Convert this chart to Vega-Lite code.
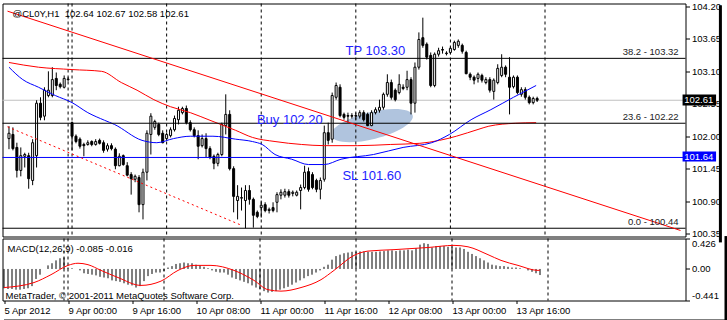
{
  "$schema": "https://vega.github.io/schema/vega-lite/v6.json",
  "background": "white",
  "padding": {"left": 1.5, "top": 0.5, "right": 0, "bottom": 0},
  "spacing": 2,
  "bounds": "flush",
  "config": {
    "view": {"stroke": "black", "strokeWidth": 1, "fill": "white"},
    "font": "Liberation Sans",
    "axis": {"labelOverlap": false, "labelFlush": false, "labelBound": false, "grid": false, "domain": false, "tickColor": "black", "labelColor": "black", "labelFont": "Liberation Sans", "labelFontSize": 9.5}
  },
  "datasets": {
    "bars": [
      {"i":-16,"o":101.96,"h":102.17,"l":101.78,"c":102.05,"m":-0.27},
      {"i":-15,"o":102.03,"h":102.15,"l":101.76,"c":101.79,"m":-0.28},
      {"i":-14,"o":101.81,"h":101.89,"l":101.30,"c":101.42,"m":-0.28},
      {"i":-13,"o":101.42,"h":101.81,"l":101.32,"c":101.67,"m":-0.29},
      {"i":-12,"o":101.66,"h":101.72,"l":101.47,"c":101.69,"m":-0.29},
      {"i":-11,"o":101.67,"h":101.72,"l":101.11,"c":101.28,"m":-0.28},
      {"i":-10,"o":101.25,"h":101.95,"l":101.17,"c":101.89,"m":-0.27},
      {"i":-9,"o":101.67,"h":102.61,"l":101.47,"c":102.56,"m":-0.24},
      {"i":-8,"o":102.56,"h":102.66,"l":102.27,"c":102.32,"m":-0.14},
      {"i":-7,"o":102.34,"h":102.83,"l":102.27,"c":102.78,"m":-0.08},
      {"i":-6,"o":102.69,"h":103.10,"l":102.66,"c":102.78,"m":0.0},
      {"i":-5,"o":102.69,"h":103.17,"l":102.66,"c":102.96,"m":0.05},
      {"i":-4,"o":102.98,"h":103.08,"l":102.78,"c":102.86,"m":0.08},
      {"i":-3,"o":102.88,"h":102.91,"l":102.81,"c":102.84,"m":0.12},
      {"i":-2,"o":102.83,"h":103.03,"l":102.81,"c":102.98,"m":0.15},
      {"i":-1,"o":102.96,"h":103.00,"l":102.93,"c":102.97,"m":0.16},
      {"i":0,"o":102.23,"h":102.25,"l":101.76,"c":102.00,"m":0.02},
      {"i":1,"o":102.00,"h":102.03,"l":101.88,"c":101.91,"m":0.01},
      {"i":2,"o":101.95,"h":101.98,"l":101.79,"c":101.83,"m":0.0},
      {"i":3,"o":101.86,"h":101.89,"l":101.66,"c":101.84,"m":-0.02},
      {"i":4,"o":101.86,"h":101.93,"l":101.84,"c":101.89,"m":-0.06},
      {"i":5,"o":101.91,"h":101.93,"l":101.83,"c":101.86,"m":-0.07},
      {"i":6,"o":101.86,"h":101.95,"l":101.84,"c":101.91,"m":-0.08},
      {"i":7,"o":101.93,"h":101.96,"l":101.86,"c":101.88,"m":-0.09},
      {"i":8,"o":101.89,"h":101.93,"l":101.72,"c":101.76,"m":-0.11},
      {"i":9,"o":101.78,"h":101.88,"l":101.74,"c":101.84,"m":-0.12},
      {"i":10,"o":101.84,"h":101.88,"l":101.76,"c":101.79,"m":-0.13},
      {"i":11,"o":101.78,"h":101.81,"l":101.44,"c":101.50,"m":-0.16},
      {"i":12,"o":101.50,"h":101.71,"l":101.49,"c":101.66,"m":-0.17},
      {"i":13,"o":101.67,"h":101.69,"l":101.50,"c":101.52,"m":-0.18},
      {"i":14,"o":101.50,"h":101.56,"l":101.32,"c":101.34,"m":-0.20},
      {"i":15,"o":101.35,"h":101.39,"l":101.01,"c":101.28,"m":-0.22},
      {"i":16,"o":101.27,"h":101.35,"l":101.22,"c":101.32,"m":-0.23},
      {"i":17,"o":101.30,"h":101.34,"l":100.71,"c":100.84,"m":-0.26},
      {"i":18,"o":100.84,"h":101.45,"l":100.59,"c":101.39,"m":-0.24},
      {"i":19,"o":101.39,"h":102.10,"l":101.25,"c":102.05,"m":-0.17},
      {"i":20,"o":102.03,"h":102.39,"l":101.69,"c":102.34,"m":-0.10},
      {"i":21,"o":102.15,"h":102.28,"l":102.11,"c":102.25,"m":-0.07},
      {"i":22,"o":102.20,"h":102.23,"l":102.00,"c":102.03,"m":-0.05},
      {"i":23,"o":102.05,"h":102.10,"l":101.88,"c":101.89,"m":-0.05},
      {"i":24,"o":101.96,"h":102.06,"l":101.93,"c":102.03,"m":-0.03},
      {"i":25,"o":102.01,"h":102.15,"l":101.98,"c":102.11,"m":0.02},
      {"i":26,"o":102.11,"h":102.35,"l":102.08,"c":102.30,"m":0.04},
      {"i":27,"o":102.28,"h":102.50,"l":102.20,"c":102.44,"m":0.07},
      {"i":28,"o":102.40,"h":102.50,"l":102.37,"c":102.47,"m":0.08},
      {"i":29,"o":102.47,"h":102.52,"l":102.20,"c":102.23,"m":0.09},
      {"i":30,"o":102.23,"h":102.27,"l":102.08,"c":102.11,"m":0.08},
      {"i":31,"o":102.11,"h":102.15,"l":101.98,"c":102.01,"m":0.08},
      {"i":32,"o":102.01,"h":102.10,"l":101.61,"c":101.83,"m":0.06},
      {"i":33,"o":101.84,"h":102.03,"l":101.81,"c":101.96,"m":0.05},
      {"i":34,"o":101.96,"h":102.05,"l":101.64,"c":101.79,"m":0.03},
      {"i":35,"o":101.79,"h":101.83,"l":101.61,"c":101.64,"m":0.01},
      {"i":36,"o":101.66,"h":101.69,"l":101.44,"c":101.54,"m":-0.02},
      {"i":37,"o":101.54,"h":101.72,"l":101.49,"c":101.69,"m":-0.04},
      {"i":38,"o":101.69,"h":102.23,"l":101.66,"c":102.20,"m":-0.05},
      {"i":39,"o":102.18,"h":102.71,"l":102.03,"c":102.37,"m":-0.05},
      {"i":40,"o":102.37,"h":102.44,"l":101.42,"c":101.45,"m":-0.08},
      {"i":41,"o":101.45,"h":101.49,"l":100.71,"c":100.98,"m":-0.12},
      {"i":42,"o":100.91,"h":101.17,"l":100.59,"c":100.98,"m":-0.14},
      {"i":43,"o":100.95,"h":101.13,"l":100.74,"c":100.96,"m":-0.16},
      {"i":44,"o":100.91,"h":101.17,"l":100.44,"c":101.08,"m":-0.18},
      {"i":45,"o":101.08,"h":101.17,"l":100.84,"c":100.93,"m":-0.20},
      {"i":46,"o":100.93,"h":100.96,"l":100.45,"c":100.66,"m":-0.23},
      {"i":47,"o":100.71,"h":100.74,"l":100.61,"c":100.64,"m":-0.26},
      {"i":48,"o":100.79,"h":100.91,"l":100.62,"c":100.83,"m":-0.28},
      {"i":49,"o":100.84,"h":100.88,"l":100.71,"c":100.74,"m":-0.31},
      {"i":50,"o":100.74,"h":100.79,"l":100.69,"c":100.76,"m":-0.33},
      {"i":51,"o":100.79,"h":100.88,"l":100.71,"c":100.74,"m":-0.32},
      {"i":52,"o":100.88,"h":101.05,"l":100.71,"c":101.01,"m":-0.31},
      {"i":53,"o":101.00,"h":101.10,"l":100.93,"c":101.05,"m":-0.29},
      {"i":54,"o":101.00,"h":101.11,"l":100.96,"c":101.06,"m":-0.27},
      {"i":55,"o":101.06,"h":101.10,"l":100.96,"c":101.00,"m":-0.25},
      {"i":56,"o":101.03,"h":101.08,"l":100.98,"c":101.05,"m":-0.22},
      {"i":57,"o":101.00,"h":101.08,"l":100.98,"c":101.05,"m":-0.19},
      {"i":58,"o":101.08,"h":101.18,"l":100.76,"c":101.13,"m":-0.16},
      {"i":59,"o":101.13,"h":101.50,"l":101.10,"c":101.39,"m":-0.13},
      {"i":60,"o":101.40,"h":101.47,"l":101.06,"c":101.10,"m":-0.10},
      {"i":61,"o":101.35,"h":101.39,"l":101.10,"c":101.13,"m":-0.08},
      {"i":62,"o":101.25,"h":101.28,"l":101.05,"c":101.10,"m":-0.05},
      {"i":63,"o":101.10,"h":101.30,"l":100.93,"c":101.25,"m":-0.02},
      {"i":64,"o":101.27,"h":102.18,"l":101.23,"c":102.06,"m":0.03},
      {"i":65,"o":102.06,"h":102.23,"l":101.86,"c":101.93,"m":0.06},
      {"i":66,"o":101.95,"h":102.74,"l":101.89,"c":102.69,"m":0.13},
      {"i":67,"o":102.66,"h":102.91,"l":102.62,"c":102.86,"m":0.18},
      {"i":68,"o":102.83,"h":102.88,"l":102.32,"c":102.35,"m":0.20},
      {"i":69,"o":102.37,"h":102.40,"l":102.28,"c":102.32,"m":0.22},
      {"i":70,"o":102.35,"h":102.40,"l":102.23,"c":102.34,"m":0.23},
      {"i":71,"o":102.35,"h":102.39,"l":102.30,"c":102.34,"m":0.24},
      {"i":72,"o":102.35,"h":102.40,"l":102.28,"c":102.34,"m":0.24},
      {"i":73,"o":102.34,"h":102.44,"l":102.30,"c":102.40,"m":0.245},
      {"i":74,"o":102.40,"h":102.44,"l":102.25,"c":102.28,"m":0.245},
      {"i":75,"o":102.37,"h":102.40,"l":102.17,"c":102.18,"m":0.24},
      {"i":76,"o":102.18,"h":102.44,"l":102.17,"c":102.40,"m":0.24},
      {"i":77,"o":102.40,"h":102.49,"l":102.37,"c":102.45,"m":0.24},
      {"i":78,"o":102.44,"h":102.62,"l":102.40,"c":102.49,"m":0.245},
      {"i":79,"o":102.49,"h":102.74,"l":102.45,"c":102.71,"m":0.25},
      {"i":80,"o":102.71,"h":103.05,"l":102.67,"c":102.91,"m":0.26},
      {"i":81,"o":102.91,"h":102.96,"l":102.62,"c":102.66,"m":0.26},
      {"i":82,"o":102.78,"h":102.81,"l":102.59,"c":102.62,"m":0.25},
      {"i":83,"o":102.74,"h":103.05,"l":102.71,"c":102.88,"m":0.26},
      {"i":84,"o":102.83,"h":102.88,"l":102.78,"c":102.81,"m":0.26},
      {"i":85,"o":102.83,"h":103.11,"l":102.78,"c":102.96,"m":0.27},
      {"i":86,"o":102.96,"h":103.00,"l":102.37,"c":102.56,"m":0.26},
      {"i":87,"o":102.56,"h":103.25,"l":102.40,"c":103.17,"m":0.29},
      {"i":88,"o":103.17,"h":103.76,"l":103.13,"c":103.64,"m":0.34},
      {"i":89,"o":103.67,"h":104.01,"l":103.50,"c":103.54,"m":0.36},
      {"i":90,"o":103.56,"h":103.59,"l":103.30,"c":103.34,"m":0.35},
      {"i":91,"o":103.37,"h":103.42,"l":102.83,"c":102.86,"m":0.30},
      {"i":92,"o":102.86,"h":103.42,"l":102.83,"c":103.39,"m":0.32},
      {"i":93,"o":103.39,"h":103.50,"l":103.35,"c":103.45,"m":0.32},
      {"i":94,"o":103.47,"h":103.52,"l":103.40,"c":103.46,"m":0.32},
      {"i":95,"o":103.40,"h":103.44,"l":103.37,"c":103.41,"m":0.31},
      {"i":96,"o":103.42,"h":103.52,"l":103.39,"c":103.49,"m":0.31},
      {"i":97,"o":103.47,"h":103.62,"l":103.45,"c":103.59,"m":0.30},
      {"i":98,"o":103.54,"h":103.64,"l":103.50,"c":103.61,"m":0.30},
      {"i":99,"o":103.54,"h":103.57,"l":103.40,"c":103.44,"m":0.28},
      {"i":100,"o":103.42,"h":103.45,"l":103.05,"c":103.06,"m":0.24},
      {"i":101,"o":103.05,"h":103.08,"l":102.95,"c":103.00,"m":0.21},
      {"i":102,"o":103.00,"h":103.03,"l":102.88,"c":102.95,"m":0.18},
      {"i":103,"o":102.98,"h":103.08,"l":102.91,"c":103.05,"m":0.15},
      {"i":104,"o":103.03,"h":103.06,"l":102.91,"c":102.95,"m":0.12},
      {"i":105,"o":102.91,"h":103.00,"l":102.88,"c":102.96,"m":0.09},
      {"i":106,"o":102.96,"h":103.00,"l":102.74,"c":102.78,"m":0.06},
      {"i":107,"o":102.76,"h":102.98,"l":102.62,"c":102.95,"m":0.05},
      {"i":108,"o":102.91,"h":103.22,"l":102.88,"c":103.15,"m":0.04},
      {"i":109,"o":103.03,"h":103.39,"l":103.00,"c":103.17,"m":0.04},
      {"i":110,"o":103.17,"h":103.20,"l":103.00,"c":103.05,"m":0.03},
      {"i":111,"o":103.00,"h":103.34,"l":102.37,"c":102.83,"m":0.02},
      {"i":112,"o":102.84,"h":103.03,"l":102.81,"c":103.00,"m":0.02},
      {"i":113,"o":103.00,"h":103.03,"l":102.71,"c":102.74,"m":0.01},
      {"i":114,"o":102.71,"h":102.83,"l":102.67,"c":102.79,"m":0.0},
      {"i":115,"o":102.79,"h":102.83,"l":102.62,"c":102.66,"m":-0.02},
      {"i":116,"o":102.66,"h":102.69,"l":102.54,"c":102.57,"m":-0.04},
      {"i":117,"o":102.57,"h":102.67,"l":102.54,"c":102.64,"m":-0.06},
      {"i":118,"o":102.64,"h":102.67,"l":102.58,"c":102.61,"m":-0.085}
    ],
    "blue": [
      {"i":-16,"p":103.17},{"i":-12.5,"p":102.96},{"i":-8.5,"p":102.83},{"i":-4.25,"p":102.69},
      {"i":0,"p":102.57},{"i":4,"p":102.40},{"i":8.25,"p":102.27},{"i":10.75,"p":102.20},
      {"i":17.75,"p":101.93},{"i":21.5,"p":101.89},{"i":25.75,"p":101.96},{"i":30,"p":102.00},
      {"i":35.75,"p":102.00},{"i":41.5,"p":101.95},{"i":45.75,"p":101.91},{"i":48.25,"p":101.86},
      {"i":51.5,"p":101.69},{"i":55.75,"p":101.61},{"i":60,"p":101.52},{"i":64,"p":101.52},
      {"i":68.25,"p":101.61},{"i":76.5,"p":101.69},{"i":84,"p":101.81},{"i":91.25,"p":101.89},
      {"i":95.75,"p":102.03},{"i":101.25,"p":102.28},{"i":106.25,"p":102.45},{"i":112,"p":102.66},
      {"i":117.75,"p":102.86}
    ],
    "red": [
      {"i":-16,"p":103.25},{"i":-8.5,"p":103.17},{"i":0,"p":103.13},{"i":7.5,"p":103.10},
      {"i":12.5,"p":102.91},{"i":16.5,"p":102.78},{"i":20.75,"p":102.62},{"i":25,"p":102.50},
      {"i":30,"p":102.40},{"i":35,"p":102.27},{"i":41.5,"p":102.10},{"i":45.75,"p":101.98},
      {"i":51.5,"p":101.91},{"i":58.25,"p":101.86},{"i":64,"p":101.84},{"i":72.5,"p":101.84},
      {"i":80.75,"p":101.86},{"i":88.25,"p":101.88},{"i":93.25,"p":101.93},{"i":97.5,"p":102.00},
      {"i":103.25,"p":102.12},{"i":105.75,"p":102.17},{"i":112.5,"p":102.22},{"i":117.75,"p":102.23}
    ],
    "sig": [
      {"i":-16,"s":-0.26},{"i":-8.5,"s":-0.19},{"i":-4.25,"s":-0.08},{"i":0,"s":0.05},
      {"i":2.5,"s":0.08},{"i":5,"s":0.06},{"i":8.25,"s":-0.02},{"i":12.5,"s":-0.12},
      {"i":18.25,"s":-0.23},{"i":23.25,"s":-0.17},{"i":27.5,"s":-0.02},{"i":31.5,"s":0.05},
      {"i":35.75,"s":0.05},{"i":41.5,"s":-0.02},{"i":46.5,"s":-0.16},{"i":50,"s":-0.29},
      {"i":53.25,"s":-0.31},{"i":58.25,"s":-0.26},{"i":63.25,"s":-0.15},{"i":66.5,"s":-0.02},
      {"i":71.5,"s":0.19},{"i":75,"s":0.25},{"i":81.5,"s":0.27},{"i":90,"s":0.30},
      {"i":96.5,"s":0.33},{"i":100,"s":0.31},{"i":105,"s":0.20},{"i":108.25,"s":0.12},
      {"i":112.5,"s":0.05},{"i":117.5,"s":-0.02},{"i":118,"s":-0.016}
    ],
    "seps": [{"d":-1},{"d":0},{"d":24},{"d":48},{"d":72},{"d":96},{"d":120}],
    "fib": [
      {"t":"38.2 - 103.32","p":103.32},
      {"t":"23.6 - 102.22","p":102.22},
      {"t":"0.0 - 100.44","p":100.44}
    ]
  },
  "vconcat": [
    {
      "width": 683,
      "height": 233,
      "layer": [
        {
          "data": {"values": [{}]},
          "mark": {"type": "point", "shape": "M-1,0A1,0.32,0,1,1,1,0A1,0.32,0,1,1,-1,0Z", "filled": true, "fill": "#B0C4DE", "opacity": 1, "size": 7056, "angle": -14, "strokeWidth": 0},
          "encoding": {
            "x": {"datum": 76.1, "type": "quantitative", "scale": {"domain": [-16.375, 154.375], "nice": false, "zero": false}, "axis": null},
            "y": {"datum": 102.18, "type": "quantitative", "scale": {"domain": [100.30, 104.25], "nice": false, "zero": false}}
          }
        },
        {
          "data": {"values": [{}]},
          "mark": {"type": "rule", "color": "#C0C0C0", "strokeWidth": 1},
          "encoding": {"y": {"datum": 102.61, "type": "quantitative"}}
        },
        {
          "data": {"name": "seps"},
          "mark": {"type": "rule", "color": "black", "strokeWidth": 1, "strokeDash": [3, 3]},
          "encoding": {"x": {"field": "d", "type": "quantitative", "axis": null}}
        },
        {
          "data": {"name": "bars"},
          "mark": {"type": "rule", "color": "black", "strokeWidth": 1},
          "encoding": {
            "x": {"field": "i", "type": "quantitative", "axis": null, "scale": {"domain": [-16.375, 154.375], "nice": false, "zero": false}},
            "y": {"field": "l", "type": "quantitative", "scale": {"domain": [100.30, 104.25], "nice": false, "zero": false},
                  "axis": {"orient": "right", "values": [100.35, 100.9, 101.45, 102, 102.55, 103.1, 103.65, 104.2], "tickCount": 50, "format": ".2f", "title": null, "grid": false, "domain": false, "ticks": true, "tickSize": 4, "tickColor": "black", "labelPadding": 2, "labelFont": "Liberation Sans", "labelFontSize": 9.5, "labelColor": "black", "labelFlush": false, "labelOverlap": false, "labelBound": false}},
            "y2": {"field": "h"}
          }
        },
        {
          "data": {"name": "bars"},
          "mark": {"type": "bar", "size": 2, "stroke": "black", "strokeWidth": 1},
          "encoding": {
            "x": {"field": "i", "type": "quantitative", "axis": null},
            "y": {"field": "o", "type": "quantitative"},
            "y2": {"field": "c"},
            "fill": {"condition": {"test": "datum.c >= datum.o", "value": "white"}, "value": "black"}
          }
        },
        {
          "data": {"name": "red"},
          "mark": {"type": "line", "color": "#FF0000", "strokeWidth": 1, "interpolate": "monotone"},
          "encoding": {
            "x": {"field": "i", "type": "quantitative", "axis": null},
            "y": {"field": "p", "type": "quantitative"}
          }
        },
        {
          "data": {"name": "blue"},
          "mark": {"type": "line", "color": "#0000FF", "strokeWidth": 1, "interpolate": "monotone"},
          "encoding": {
            "x": {"field": "i", "type": "quantitative", "axis": null},
            "y": {"field": "p", "type": "quantitative"}
          }
        },
        {
          "data": {"name": "fib"},
          "mark": {"type": "rule", "color": "black", "strokeWidth": 1},
          "encoding": {"y": {"field": "p", "type": "quantitative"}}
        },
        {
          "data": {"values": [{}]},
          "mark": {"type": "rule", "color": "#0000FF", "strokeWidth": 1},
          "encoding": {"y": {"datum": 101.64, "type": "quantitative"}}
        },
        {
          "data": {"values": [{}]},
          "mark": {"type": "rule", "color": "#FF0000", "strokeWidth": 1},
          "encoding": {
            "x": {"datum": -16.375, "type": "quantitative", "axis": null},
            "x2": {"datum": 154.375},
            "y": {"datum": 104.12, "type": "quantitative"},
            "y2": {"datum": 100.402}
          }
        },
        {
          "data": {"values": [{}]},
          "mark": {"type": "rule", "color": "#FF0000", "strokeWidth": 1, "strokeDash": [2, 3]},
          "encoding": {
            "x": {"datum": -16.375, "type": "quantitative", "axis": null},
            "x2": {"datum": 43.1},
            "y": {"datum": 102.16, "type": "quantitative"},
            "y2": {"datum": 100.487}
          }
        },
        {
          "data": {"name": "fib"},
          "mark": {"type": "text", "align": "right", "baseline": "bottom", "dy": -1, "fontSize": 9.5, "color": "#222222"},
          "encoding": {
            "x": {"datum": 153.9, "type": "quantitative", "axis": null},
            "y": {"field": "p", "type": "quantitative"},
            "text": {"field": "t"}
          }
        },
        {
          "data": {"values": [{}]},
          "mark": {"type": "text", "align": "left", "baseline": "middle", "fontSize": 13, "color": "#2222FF"},
          "encoding": {
            "x": {"datum": 69.4, "type": "quantitative", "axis": null},
            "y": {"datum": 103.45, "type": "quantitative"},
            "text": {"value": "TP 103.30"}
          }
        },
        {
          "data": {"values": [{}]},
          "mark": {"type": "text", "align": "left", "baseline": "middle", "fontSize": 13, "color": "#2222FF"},
          "encoding": {
            "x": {"datum": 46.9, "type": "quantitative", "axis": null},
            "y": {"datum": 102.28, "type": "quantitative"},
            "text": {"value": "Buy 102.20"}
          }
        },
        {
          "data": {"values": [{}]},
          "mark": {"type": "text", "align": "left", "baseline": "middle", "fontSize": 13, "color": "#2222FF"},
          "encoding": {
            "x": {"datum": 68.6, "type": "quantitative", "axis": null},
            "y": {"datum": 101.33, "type": "quantitative"},
            "text": {"value": "SL 101.60"}
          }
        },
        {
          "data": {"values": [{}]},
          "mark": {"type": "text", "align": "left", "baseline": "middle", "fontSize": 9.5, "color": "black"},
          "encoding": {
            "x": {"datum": -15.1, "type": "quantitative", "axis": null},
            "y": {"datum": 104.08, "type": "quantitative"},
            "text": {"value": "@CL0Y,H1\u00a0 102.64 102.67 102.58 102.61"}
          }
        },
        {
          "data": {"values": [{}]},
          "mark": {"type": "rect", "color": "black"},
          "encoding": {
            "x": {"datum": 154.9, "type": "quantitative", "axis": null},
            "x2": {"datum": 163.4},
            "y": {"datum": 102.707, "type": "quantitative"},
            "y2": {"datum": 102.521}
          }
        },
        {
          "data": {"values": [{}]},
          "mark": {"type": "rect", "color": "#0000FF"},
          "encoding": {
            "x": {"datum": 154.9, "type": "quantitative", "axis": null},
            "x2": {"datum": 163.4},
            "y": {"datum": 101.741, "type": "quantitative"},
            "y2": {"datum": 101.572}
          }
        },
        {
          "data": {"values": [{}]},
          "mark": {"type": "text", "align": "left", "baseline": "middle", "fontSize": 9.5, "color": "white"},
          "encoding": {
            "x": {"datum": 155.3, "type": "quantitative", "axis": null},
            "y": {"datum": 102.614, "type": "quantitative"},
            "text": {"value": "102.61"}
          }
        },
        {
          "data": {"values": [{}]},
          "mark": {"type": "text", "align": "left", "baseline": "middle", "fontSize": 9.5, "color": "white"},
          "encoding": {
            "x": {"datum": 155.3, "type": "quantitative", "axis": null},
            "y": {"datum": 101.656, "type": "quantitative"},
            "text": {"value": "101.64"}
          }
        },
        {
          "data": {"values": [{}]},
          "mark": {"type": "rule", "color": "black", "strokeWidth": 3},
          "encoding": {
            "x": {"datum": 164.5, "type": "quantitative", "axis": null},
            "y": {"datum": 104.22, "type": "quantitative"},
            "y2": {"datum": 100.2}
          }
        }
      ]
    },
    {
      "width": 683,
      "height": 62,
      "layer": [
        {
          "data": {"name": "seps"},
          "mark": {"type": "rule", "color": "black", "strokeWidth": 1, "strokeDash": [3, 3]},
          "encoding": {"x": {"field": "d", "type": "quantitative", "scale": {"domain": [-16.375, 154.375], "nice": false, "zero": false}}}
        },
        {
          "data": {"name": "bars"},
          "mark": {"type": "rule", "color": "black", "strokeWidth": 1},
          "encoding": {
            "x": {"field": "i", "type": "quantitative", "scale": {"domain": [-16.375, 154.375], "nice": false, "zero": false},
                  "axis": {"orient": "bottom", "values": [-16, 0, 16, 32, 48, 64, 80, 96, 112], "tickCount": 50,
                           "labelExpr": "datum.value == -16 ? '5 Apr 2012' : datum.value == 0 ? '9 Apr 00:00' : datum.value == 16 ? '9 Apr 16:00' : datum.value == 32 ? '10 Apr 08:00' : datum.value == 48 ? '11 Apr 00:00' : datum.value == 64 ? '11 Apr 16:00' : datum.value == 80 ? '12 Apr 08:00' : datum.value == 96 ? '13 Apr 00:00' : '13 Apr 16:00'",
                           "title": null, "grid": false, "domain": false, "ticks": true, "tickSize": 3, "tickColor": "black", "labelPadding": 2, "labelAlign": "left", "labelBaseline": "top", "labelFlush": false, "labelOverlap": false, "labelBound": false, "labelFont": "Liberation Sans", "labelFontSize": 9.5, "labelColor": "black"}},
            "y": {"field": "m", "type": "quantitative", "scale": {"domain": [-0.441, 0.426], "nice": false, "zero": false},
                  "axis": {"orient": "right", "values": [0.426, 0, -0.441], "tickCount": 50,
                           "labelExpr": "datum.value == 0 ? '0.00' : (datum.value > 0 ? '0.426' : '-0.441')",
                           "title": null, "grid": false, "domain": false, "ticks": true, "tickSize": 4, "tickColor": "black", "labelPadding": 2, "labelFont": "Liberation Sans", "labelFontSize": 9.5, "labelColor": "black", "labelFlush": false, "labelOverlap": false, "labelBound": false,
                           "labelBaseline": {"condition": [{"test": "datum.value > 0.1", "value": "top"}, {"test": "datum.value < -0.1", "value": "bottom"}], "value": "middle"}}},
            "y2": {"datum": 0}
          }
        },
        {
          "data": {"name": "sig"},
          "mark": {"type": "line", "color": "#FF0000", "strokeWidth": 1, "interpolate": "monotone"},
          "encoding": {
            "x": {"field": "i", "type": "quantitative"},
            "y": {"field": "s", "type": "quantitative"}
          }
        },
        {
          "data": {"values": [{}]},
          "mark": {"type": "text", "align": "left", "baseline": "middle", "fontSize": 9.5, "color": "black"},
          "encoding": {
            "x": {"datum": -15.1, "type": "quantitative"},
            "y": {"datum": 0.286, "type": "quantitative"},
            "text": {"value": "MACD(12,26,9) -0.085 -0.016"}
          }
        },
        {
          "data": {"values": [{}]},
          "mark": {"type": "text", "align": "left", "baseline": "middle", "fontSize": 9.5, "color": "black"},
          "encoding": {
            "x": {"datum": -15.6, "type": "quantitative"},
            "y": {"datum": -0.385, "type": "quantitative"},
            "text": {"value": "MetaTrader, © 2001-2011 MetaQuotes Software Corp."}
          }
        },
        {
          "data": {"values": [{}]},
          "mark": {"type": "rule", "color": "black", "strokeWidth": 3},
          "encoding": {
            "x": {"datum": 164.5, "type": "quantitative"},
            "y": {"datum": 0.46, "type": "quantitative"},
            "y2": {"datum": -0.75}
          }
        },
        {
          "data": {"values": [{}]},
          "mark": {"type": "rule", "color": "black", "strokeWidth": 3},
          "encoding": {
            "x": {"datum": -16.0, "type": "quantitative"},
            "x2": {"datum": 165},
            "y": {"datum": -0.728, "type": "quantitative"}
          }
        }
      ]
    }
  ]
}
